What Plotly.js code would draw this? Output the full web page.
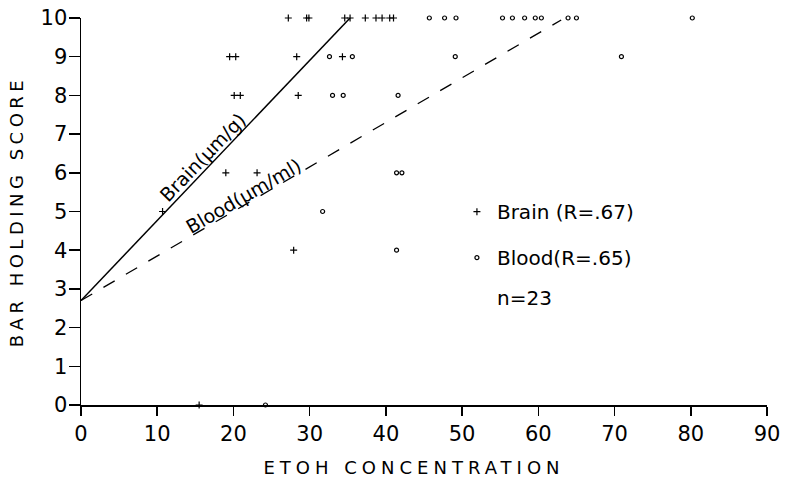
<!DOCTYPE html>
<html>
<head>
<meta charset="utf-8">
<script src="https://cdn.plot.ly/plotly-3.0.1.min.js"></script>
<style>
  html, body { margin: 0; padding: 0; background: #fff; }
  #chart { width: 786px; height: 481px; }
  .xtitle { letter-spacing: 5px; transform: translate(-10px, 0px); }
  .ytitle { letter-spacing: 4.5px; }
</style>
</head>
<body>
<div id="chart"></div>
<script>
// Brain (+) ETOH concentration and bar holding score
const brainX = [27.2, 29.6, 29.9, 34.6, 35.3, 37.3, 38.7, 39.5, 40.5, 41.0,
                19.5, 20.3, 28.3, 34.3,
                20.1, 20.9, 28.5,
                19.0, 23.1,
                10.7,
                27.9,
                15.5];
const brainY = [10, 10, 10, 10, 10, 10, 10, 10, 10, 10,
                9, 9, 9, 9,
                8, 8, 8,
                6, 6,
                5,
                4,
                0];
// Blood (o)
const bloodX = [45.7, 47.7, 49.2, 55.3, 56.6, 58.2, 59.6, 60.4, 63.9, 65.0, 80.2,
                32.6, 35.6, 49.1, 70.9,
                33.0, 34.4, 41.6,
                41.4, 42.1,
                31.7,
                41.4,
                24.2];
const bloodY = [10, 10, 10, 10, 10, 10, 10, 10, 10, 10, 10,
                9, 9, 9, 9,
                8, 8, 8,
                6, 6,
                5,
                4,
                0];
// Regression lines (end points)
const brainLineX = [0, 35.3];
const brainLineY = [2.7, 10];
const bloodLineX = [0, 63];
const bloodLineY = [2.7, 9.95];

const xTicks = [0, 10, 20, 30, 40, 50, 60, 70, 80, 90];
const yTicks = [0, 1, 2, 3, 4, 5, 6, 7, 8, 9, 10];

const FONT = 'DejaVu Sans, Liberation Sans, sans-serif';

const traces = [
  {
    x: brainLineX, y: brainLineY, mode: 'lines', type: 'scatter',
    line: { color: '#000', width: 1.5 }, showlegend: false, hoverinfo: 'skip', cliponaxis: false
  },
  {
    x: bloodLineX, y: bloodLineY, mode: 'lines', type: 'scatter',
    line: { color: '#000', width: 1.3, dash: '13px,13px' }, showlegend: false, hoverinfo: 'skip', cliponaxis: false
  },
  {
    x: brainX, y: brainY, mode: 'markers', type: 'scatter', name: 'Brain (R=.67)',
    legendgroup: 'a', cliponaxis: false,
    marker: { symbol: 'cross-thin-open', size: 5, color: '#000', line: { color: '#000', width: 1.2 } }
  },
  {
    x: bloodX, y: bloodY, mode: 'markers', type: 'scatter', name: 'Blood(R=.65)',
    legendgroup: 'b', cliponaxis: false,
    marker: { symbol: 'circle-open', size: 4, color: '#000', line: { color: '#000', width: 1.2 } }
  }
];

const layout = {
  width: 786, height: 481,
  margin: { l: 81, r: 19, t: 18, b: 76 },
  paper_bgcolor: '#fff', plot_bgcolor: '#fff',
  font: { family: FONT, color: '#000', size: 20 },
  showlegend: true,
  legend: {
    x: 0.548, y: 0.55, xanchor: 'left', yanchor: 'top',
    bgcolor: 'rgba(0,0,0,0)', traceorder: 'grouped', tracegroupgap: 17,
    font: { family: FONT, size: 20, color: '#000' }, itemwidth: 30
  },
  xaxis: {
    range: [0, 90], tickvals: xTicks, ticktext: xTicks.map(String),
    showgrid: false, zeroline: false, showline: true, linecolor: '#000', linewidth: 1.5,
    ticks: 'outside', ticklen: 9, tickwidth: 1.5, tickcolor: '#000',
    tickfont: { family: FONT, size: 21, color: '#000' },
    title: { text: 'ETOH CONCENTRATION', font: { family: FONT, size: 18, color: '#000' }, standoff: 16 }
  },
  yaxis: {
    range: [0, 10], tickvals: yTicks, ticktext: yTicks.map(String),
    showgrid: false, zeroline: false, showline: true, linecolor: '#000', linewidth: 1.5,
    ticks: 'outside', ticklen: 11, tickwidth: 1.5, tickcolor: '#000', ticklabelstandoff: -3,
    tickfont: { family: FONT, size: 21, color: '#000' },
    title: { text: 'BAR HOLDING SCORE', font: { family: FONT, size: 18, color: '#000' }, standoff: 12 }
  },
  annotations: [
    { x: 16.0, y: 6.4, xref: 'x', yref: 'y', text: 'Brain(µm/g)', showarrow: false,
      textangle: -46, font: { family: FONT, size: 19, color: '#000' } },
    { x: 21.3, y: 5.4, xref: 'x', yref: 'y', text: 'Blood(µm/ml)', showarrow: false,
      textangle: -30, font: { family: FONT, size: 19, color: '#000' } },
    { x: 54.3, y: 2.77, xref: 'x', yref: 'y', xanchor: 'left', text: 'n=23', showarrow: false,
      font: { family: FONT, size: 20, color: '#000' } }
  ]
};

Plotly.newPlot('chart', traces, layout, { staticPlot: true, displayModeBar: false });
</script>
</body>
</html>
